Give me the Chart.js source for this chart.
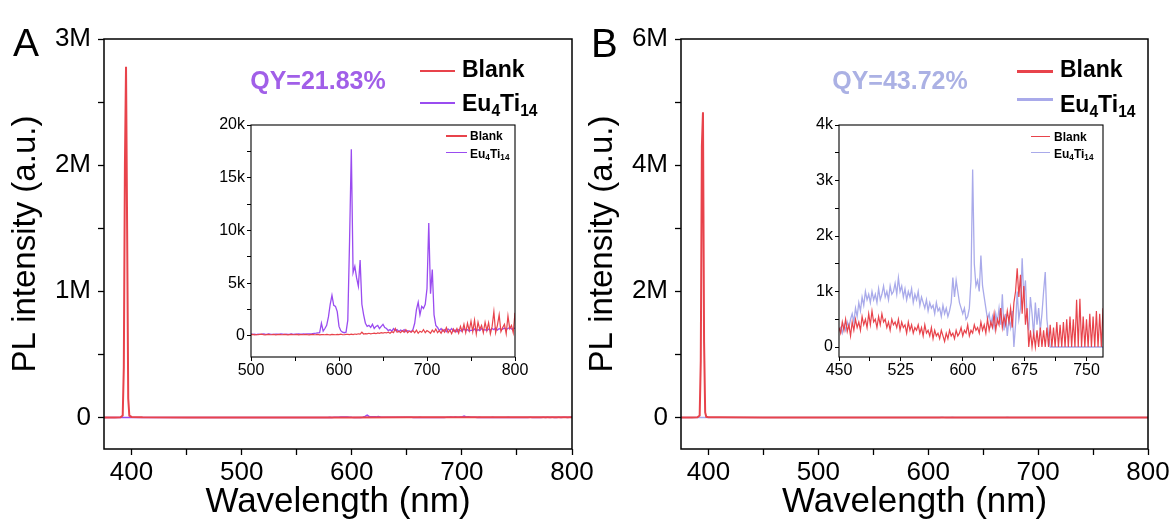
<!DOCTYPE html>
<html><head><meta charset="utf-8">
<script src="https://cdn.jsdelivr.net/npm/chart.js@4.4.1/dist/chart.umd.min.js"></script>
<style>
html,body{margin:0;padding:0;background:#fff;}
#wrap{position:relative;width:1176px;height:524px;overflow:hidden;font-family:"Liberation Sans",Arial,Helvetica,sans-serif;color:#000;}
canvas{position:absolute;}
.t{position:absolute;white-space:nowrap;line-height:1;}
.sw{position:absolute;}
sub{font-size:0.68em;vertical-align:baseline;position:relative;top:0.3em;}
</style></head>
<body>
<div id="wrap">
<canvas id="mainA" width="600" height="524" style="left:0;top:0"></canvas>
<canvas id="mainB" width="599" height="524" style="left:577px;top:0"></canvas>
<canvas id="insetA" width="330" height="270" style="left:205px;top:110px"></canvas>
<canvas id="insetB" width="330" height="270" style="left:793px;top:110px"></canvas>
</div>
<script>
// ---------- DATA ----------
const seriesNames = ['Blank', 'Eu4Ti14'];
const panelLabels = ['A', 'B'];
const qyTexts = ['QY=21.83%', 'QY=43.72%'];

// main panels: Blank excitation peak
const mainA_blank_nm = [375, 385, 390, 392, 393, 394, 395, 396, 397, 398, 400, 410, 450, 500, 550, 600, 650, 700, 750, 800];
const mainA_blank    = [0, 500, 2000, 15000, 400000, 2000000, 2780000, 1500000, 150000, 15000, 4000, 1500, 500, 300, 300, 500, 800, 1000, 1500, 2000];
const mainB_blank_nm = [375, 385, 390, 392, 393, 394, 395, 396, 397, 398, 400, 410, 450, 500, 550, 600, 650, 700, 750, 800];
const mainB_blank    = [0, 500, 2500, 30000, 900000, 4300000, 4840000, 1200000, 80000, 10000, 5000, 1500, 400, 400, 300, 300, 500, 300, 400, 500];
// main panels: Eu4Ti14 part below the inset range
const mainA_eu_nm_low = [375, 400, 450];
const mainA_eu_low    = [0, 100, 150];
const mainB_eu_nm_low = [375, 400, 430];
const mainB_eu_low    = [0, 200, 300];

// inset A (500-800 nm)
const insetA_nm = [
500,502,504,506,508,510,512,514,516,518,520,522,524,526,528,530,532,534,536,538,540,542,544,546,548,
550,552,554,556,558,560,562,564,566,568,570,572,574,576,578,580,582,584,586,588,590,592,594,596,598,
600,602,604,606,608,610,612,614,616,618,620,622,624,626,628,630,632,634,636,638,640,642,644,646,648,
650,652,654,656,658,660,662,664,666,668,670,672,674,676,678,680,682,684,686,688,690,692,694,696,698,
700,702,704,706,708,710,712,714,716,718,720,722,724,726,728,730,732,734,736,738,740,742,744,746,748,
750,752,754,756,758,760,762,764,766,768,770,772,774,776,778,780,782,784,786,788,790,792,794,796,798,800];
const insetA_eu = [
180,150,160,130,170,150,140,190,160,150,200,170,150,140,170,160,150,180,160,140,170,150,160,180,150,
170,160,190,170,160,180,170,190,200,180,220,250,260,280,300,1200,450,700,1000,1800,3000,3850,2900,2800,2300,
900,500,350,300,350,1500,9000,17700,6000,6600,5500,4700,7200,3000,2000,1200,900,1000,800,1100,700,900,1000,700,900,
1100,800,700,500,600,450,700,500,600,400,550,450,600,400,500,450,400,600,1200,2500,3200,2000,2800,2600,3000,
4500,10700,4000,6300,2000,1000,800,500,700,450,600,400,650,500,700,450,550,400,600,500,450,700,500,600,450,
550,500,650,450,600,500,700,550,600,500,650,550,700,600,750,550,700,600,650,750,600,700,800,650,700,750];
const insetA_blank = [
120,150,100,130,110,140,160,120,100,130,150,110,120,140,100,130,150,120,110,140,120,100,130,150,110,
120,140,100,130,120,110,150,120,100,130,140,110,120,150,100,130,120,110,150,120,100,140,130,110,150,
120,160,130,110,150,140,120,160,130,180,150,200,170,350,180,220,200,250,190,230,260,210,280,240,300,
260,320,280,350,250,400,300,700,350,450,300,500,350,600,300,450,350,500,300,550,250,450,350,600,300,
500,400,250,550,350,650,300,500,250,600,350,800,300,550,200,650,350,700,250,900,400,1100,300,1200,500,
1400,400,1500,200,1300,600,1000,300,1300,500,1250,200,900,2300,300,1000,2000,400,800,1100,200,1900,700,1000,300,2200];

// inset B (450-770 nm)
const insetB_nm = [
450,452,454,456,458,460,462,464,466,468,470,472,474,476,478,480,482,484,486,488,490,492,494,496,498,
500,502,504,506,508,510,512,514,516,518,520,522,524,526,528,530,532,534,536,538,540,542,544,546,548,
550,552,554,556,558,560,562,564,566,568,570,572,574,576,578,580,582,584,586,588,590,592,594,596,598,
600,602,604,606,608,610,612,614,616,618,620,622,624,626,628,630,632,634,636,638,640,642,644,646,648,
650,652,654,656,658,660,662,664,666,668,670,672,674,676,678,680,682,684,686,688,690,692,694,696,698,
700,702,704,706,708,710,712,714,716,718,720,722,724,726,728,730,732,734,736,738,740,742,744,746,748,
750,752,754,756,758,760,762,764,766,768,770];
const insetB_eu = [
300,350,250,400,300,450,350,500,600,450,700,550,800,650,900,750,1000,850,950,800,1000,850,950,800,1050,
850,950,1100,900,1000,850,1100,950,1000,1150,950,1250,1000,1100,900,1050,850,1000,900,1050,800,950,850,1000,750,
900,800,700,850,650,800,700,750,600,800,650,700,550,750,600,700,550,650,800,1250,900,1200,1000,800,700,
600,700,500,550,700,1200,3200,1500,1100,1200,1000,1650,1100,900,700,500,600,400,550,350,600,450,700,400,950,
300,600,200,500,350,650,0,400,1000,500,700,1600,900,1200,500,300,900,600,200,800,400,700,300,600,1000,
1350,500,200,0,0,0,0,0,0,0,0,0,0,0,0,0,0,0,0,0,0,0,0,0,0,
0,0,0,0,0,0,0,0,0,0,0];
const insetB_blank = [
350,250,450,300,500,280,400,200,450,300,500,350,450,300,550,400,500,350,600,400,650,450,500,350,550,
400,600,450,500,350,450,300,500,400,450,350,500,300,450,350,400,250,450,300,400,250,350,300,400,250,
350,200,400,250,300,200,350,150,300,200,250,150,300,200,100,250,150,300,200,250,150,300,200,250,350,
200,300,250,400,200,300,250,400,300,350,250,450,300,400,250,500,300,450,350,600,300,500,400,700,350,
550,400,650,450,700,350,800,1000,1420,900,1300,600,1100,400,700,0,300,0,250,0,300,0,350,0,300,
0,350,0,400,0,350,0,450,0,400,0,450,0,500,0,550,0,500,0,850,0,870,0,550,0,
500,0,600,0,550,0,650,0,600,0,700];
const mainB_eu_nm_high = [800];
const mainB_eu_high    = [0];

// ticks
const mainX_ticks  = [400, 450, 500, 550, 600, 650, 700, 750, 800];
const mainX_labels = ['400', '', '500', '', '600', '', '700', '', '800'];
const mainA_yticks  = [0, 500000, 1000000, 1500000, 2000000, 2500000, 3000000];
const mainA_ylabels = ['0', '', '1M', '', '2M', '', '3M'];
const mainB_yticks  = [0, 1000000, 2000000, 3000000, 4000000, 5000000, 6000000];
const mainB_ylabels = ['0', '', '2M', '', '4M', '', '6M'];
const insetA_xticks  = [500, 550, 600, 650, 700, 750, 800];
const insetA_xlabels = ['500', '', '600', '', '700', '', '800'];
const insetA_yticks  = [0, 2500, 5000, 7500, 10000, 12500, 15000, 17500, 20000];
const insetA_ylabels = ['0', '', '5k', '', '10k', '', '15k', '', '20k'];
const insetB_xticks  = [450, 487.5, 525, 562.5, 600, 637.5, 675, 712.5, 750];
const insetB_xlabels = ['450', '', '525', '', '600', '', '675', '', '750'];
const insetB_yticks  = [0, 500, 1000, 1500, 2000, 2500, 3000, 3500, 4000];
const insetB_ylabels = ['0', '', '1k', '', '2k', '', '3k', '', '4k'];

// ---------- STYLE ----------
const RED = '#e8434b', PURPLE = '#9a4cf0', LAVENDER = '#a9aaea';
Chart.defaults.font.family = "'Liberation Sans', Arial, Helvetica, sans-serif";
Chart.defaults.color = '#000';

const frame = {
  id: 'frame',
  afterDatasetsDraw(chart, args, opts) {
    const {ctx, chartArea: a} = chart;
    ctx.save();
    ctx.strokeStyle = '#000';
    ctx.lineWidth = opts.w || 1.5;
    ctx.strokeRect(a.left, a.top, a.right - a.left, a.bottom - a.top);
    ctx.restore();
  }
};

function pts(xs, ys) { return xs.map((x, i) => ({x: x, y: ys[i]})); }

function axis(kind, min, max, ticks, labels, o) {
  const s = {
    type: 'linear', min: min, max: max,
    afterBuildTicks: sc => { sc.ticks = ticks.map(v => ({value: v})); },
    afterFit: sc => {
      if (kind === 'x') sc.height = o.size; else sc.width = o.size;
      sc.paddingLeft = 0; sc.paddingRight = 0; sc.paddingTop = 0; sc.paddingBottom = 0;
    },
    grid: {display: true, drawOnChartArea: false, drawTicks: true, tickLength: o.tl, tickColor: '#000', tickWidth: o.tw},
    border: {display: false},
    ticks: {autoSkip: false, maxRotation: 0, minRotation: 0, padding: o.pad, font: {size: o.fs}, color: '#000',
            callback: (v, i) => labels[i]}
  };
  if (o.title) s.title = {display: true, text: o.title, color: '#000', font: {size: o.tfs}, padding: o.tpad};
  return s;
}

function makeChart(id, datasets, xs, ys, pad, frameW) {
  return new Chart(document.getElementById(id), {
    type: 'line',
    data: {datasets: datasets},
    options: {
      responsive: false, animation: false, devicePixelRatio: 1,
      layout: {padding: pad},
      elements: {point: {radius: 0}, line: {tension: 0}},
      plugins: {legend: {display: false}, tooltip: {enabled: false}, frame: {w: frameW}},
      scales: {x: xs, y: ys}
    },
    plugins: [frame]
  });
}

function ds(label, data, color, w, order) {
  return {label: label, data: data, borderColor: color, backgroundColor: color, borderWidth: w, fill: false, order: order, pointRadius: 0};
}

const mainXo = {size: 75, tl: 6, tw: 1.3, pad: 2, fs: 26, title: 'Wavelength (nm)', tfs: 35, tpad: {top: 0, bottom: 1}};
const mainYo = {size: 104, tl: 6, tw: 1.3, pad: 7, fs: 26, title: 'PL intensity (a.u.)', tfs: 33, tpad: {top: 6, bottom: 0}};
const insXo = {size: 23, tl: 4, tw: 1, pad: 0, fs: 16};
const insYo = {size: 46, tl: 4, tw: 1, pad: 2, fs: 16};

// main A
makeChart('mainA', [
  ds(seriesNames[0], pts(mainA_blank_nm, mainA_blank), RED, 2, 0),
  ds(seriesNames[1], pts(mainA_eu_nm_low.concat(insetA_nm), mainA_eu_low.concat(insetA_eu)), PURPLE, 1.5, 1)
], axis('x', 375, 800, mainX_ticks, mainX_labels, mainXo),
   axis('y', -250000, 3000000, mainA_yticks, mainA_ylabels, mainYo),
   {top: 39, right: 28, left: 0, bottom: 0}, 1.5);

// main B
makeChart('mainB', [
  ds(seriesNames[0], pts(mainB_blank_nm, mainB_blank), RED, 2, 0),
  ds(seriesNames[1], pts(mainB_eu_nm_low.concat(insetB_nm, mainB_eu_nm_high), mainB_eu_low.concat(insetB_eu, mainB_eu_high)), LAVENDER, 1.5, 1)
], axis('x', 375, 800, mainX_ticks, mainX_labels, mainXo),
   axis('y', -500000, 6000000, mainB_yticks, mainB_ylabels, mainYo),
   {top: 39, right: 28, left: 0, bottom: 0}, 1.5);

// inset A
makeChart('insetA', [
  ds(seriesNames[0], pts(insetA_nm, insetA_blank), RED, 1.2, 0),
  ds(seriesNames[1], pts(insetA_nm, insetA_eu), PURPLE, 1.3, 1)
], axis('x', 500, 800, insetA_xticks, insetA_xlabels, insXo),
   axis('y', -2000, 20000, insetA_yticks, insetA_ylabels, insYo),
   {top: 15, right: 20, left: 0, bottom: 0}, 1.1);

// inset B
makeChart('insetB', [
  ds(seriesNames[0], pts(insetB_nm, insetB_blank), RED, 1.2, 0),
  ds(seriesNames[1], pts(insetB_nm, insetB_eu), LAVENDER, 1.3, 1)
], axis('x', 450, 770, insetB_xticks, insetB_xlabels, insXo),
   axis('y', -180, 4000, insetB_yticks, insetB_ylabels, insYo),
   {top: 15, right: 20, left: 0, bottom: 0}, 1.1);

// ---------- HTML text overlays ----------
const wrap = document.getElementById('wrap');
const ASC = 0.8464;
function fmt(name) { return name.replace(/(\d+)/g, '<sub>$1</sub>'); }
function addText(html, left, baseline, size, opts) {
  const d = document.createElement('div');
  d.className = 't';
  d.innerHTML = html;
  d.style.fontSize = size + 'px';
  d.style.left = left + 'px';
  d.style.top = (baseline - ASC * size) + 'px';
  if (opts && opts.bold) d.style.fontWeight = 'bold';
  if (opts && opts.color) d.style.color = opts.color;
  if (opts && opts.center) d.style.transform = 'translateX(-50%)';
  wrap.appendChild(d);
}
function addLine(x1, x2, y, w, color) {
  const d = document.createElement('div');
  d.className = 'sw';
  d.style.left = x1 + 'px';
  d.style.width = (x2 - x1) + 'px';
  d.style.top = (y - w / 2) + 'px';
  d.style.height = w + 'px';
  d.style.background = color;
  wrap.appendChild(d);
}
function legend(colors, lx1, lx2, lineY, tx, baselines, fs, lw) {
  seriesNames.forEach((n, i) => {
    addLine(lx1, lx2, lineY[i], lw, colors[i]);
    addText(fmt(n), tx, baselines[i], fs, {bold: true});
  });
}

// panel letters
addText(panelLabels[0], 13, 56, 39);
addText(panelLabels[1], 591, 57, 40);
// QY
addText(qyTexts[0], 318, 89, 25, {bold: true, color: '#a15fe8', center: true});
addText(qyTexts[1], 900, 89, 25, {bold: true, color: '#abb1e4', center: true});
// legends
legend([RED, PURPLE], 420, 455, [71, 103], 462, [77, 111.7], 23, 2.5);
legend([RED, LAVENDER], 1017, 1053, [71.4, 99.5], 1060, [77.8, 112.8], 23, 2.5);
legend([RED, PURPLE], 446, 467, [136, 152.7], 470, [140, 157.7], 12, 1.5);
legend([RED, LAVENDER], 1031, 1050, [136.7, 152.7], 1054, [140.7, 158], 12, 1.5);
</script>
</body></html>
